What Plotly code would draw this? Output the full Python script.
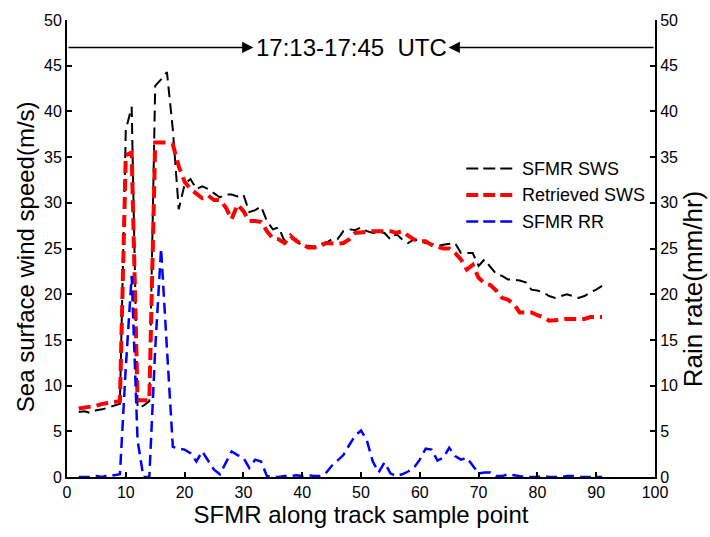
import plotly.graph_objects as go

sample = list(range(2, 92))

sfmr_sws = [7.1, 7.2, 7.0, 7.3, 7.4, 7.6, 7.8, 8.0, 38.0, 40.5,
            7.6, 7.8, 8.3, 42.8, 43.5, 44.3, 38.0, 29.3, 32.0, 32.6,
            31.5, 31.8, 31.5, 31.0, 30.6, 30.9, 30.9, 30.7, 30.9, 29.0,
            29.2, 29.6, 28.0, 27.1, 27.3, 25.8, 26.0, 26.0, 25.2, 25.3,
            25.2, 25.5, 25.6, 26.0, 26.0, 26.9, 27.1, 27.0, 27.3, 26.9,
            26.7, 26.8, 26.7, 26.0, 26.6, 26.0, 25.6, 26.0, 25.8, 25.6,
            25.5, 25.3, 25.4, 25.5, 25.6, 24.5, 24.5, 24.5, 23.1, 23.8,
            23.0, 22.2, 22.0, 21.6, 21.6, 21.5, 21.3, 20.5, 20.4, 20.2,
            19.8, 19.6, 19.8, 20.0, 19.8, 19.6, 19.8, 20.2, 20.5, 20.9]

retrieved_sws = [7.5, 7.6, 7.6, 7.8, 8.0, 8.1, 8.2, 8.3, 35.2, 35.5,
                 8.4, 8.4, 8.4, 36.6, 36.6, 36.6, 36.4, 34.0, 32.3, 31.5,
                 31.0, 30.5, 30.8, 30.3, 30.3, 29.5, 28.2, 29.8, 29.1, 28.0,
                 28.0, 27.9, 26.9, 26.1, 26.0, 25.6, 26.4, 25.8, 25.5, 25.1,
                 25.1, 25.2, 25.6, 25.5, 25.5, 25.6, 26.0, 26.7, 26.8, 26.9,
                 26.9, 26.9, 26.9, 26.9, 26.7, 26.9, 26.4, 26.0, 25.8, 25.8,
                 25.4, 25.2, 25.0, 25.0, 24.5, 23.8, 22.7, 23.2, 21.8, 21.2,
                 21.0, 20.4, 19.6, 19.4, 18.9, 18.0, 18.0, 18.0, 17.7, 17.5,
                 17.1, 17.1, 17.2, 17.3, 17.3, 17.3, 17.3, 17.5, 17.5, 17.5]

sfmr_rr = [0.0, 0.0, 0.0, 0.1, 0.0, 0.2, 0.2, 0.3, 12.0, 22.0,
           4.0, 0.0, 0.0, 14.0, 25.0, 14.0, 3.3, 3.1, 3.0, 2.6,
           1.7, 2.8, 1.8, 0.8, 0.3, 1.5, 2.8, 2.4, 2.1, 1.0,
           1.9, 1.7, 0.1, 0.0, 0.0, 0.1, 0.1, 0.2, 0.1, 0.2,
           0.1, 0.1, 0.4, 1.2, 1.8, 2.4, 3.5, 4.5, 5.1, 4.0,
           1.7, 0.5, 1.6, 0.4, 0.1, 0.3, 0.6, 1.0, 1.9, 3.1,
           3.0, 1.8, 2.1, 3.2, 2.3, 1.9, 2.1, 1.2, 0.4, 0.5,
           0.5, 0.1, 0.1, 0.3, 0.2, 0.1, 0.0, 0.0, 0.0, 0.1,
           0.0, 0.0, 0.0, 0.1, 0.1, 0.0, 0.0, 0.0, 0.0, 0.0]

series_names = ["SFMR SWS", "Retrieved SWS", "SFMR RR"]
x_ticks = list(range(0, 101, 10))
y_ticks = list(range(0, 51, 5))
time_label = "17:13-17:45  UTC"
x_title = "SFMR along track sample point"
y_title = "Sea surface wind speed(m/s)"
y2_title = "Rain rate(mm/hr)"

FONT = "Liberation Sans, Arial, sans-serif"
colors = ["black", "#ff0000", "#0000ff"]
widths = [2, 4, 2.5]
dashes = ["11px,6px", "12px,6px", "11px,6px"]

fig = go.Figure()
fig.add_trace(go.Scatter(x=sample, y=sfmr_sws, name=series_names[0], mode="lines",
                         line=dict(color=colors[0], width=widths[0], dash=dashes[0])))
fig.add_trace(go.Scatter(x=sample, y=retrieved_sws, name=series_names[1], mode="lines",
                         line=dict(color=colors[1], width=widths[1], dash=dashes[1])))
fig.add_trace(go.Scatter(x=sample, y=sfmr_rr, name=series_names[2], mode="lines", yaxis="y2",
                         line=dict(color=colors[2], width=widths[2], dash=dashes[2])))

axis_common = dict(showgrid=False, zeroline=False, ticks="inside", ticklen=5,
                   tickwidth=2, tickcolor="black", linecolor="black", linewidth=2,
                   showline=True, tickfont=dict(family=FONT, size=16, color="black"))

fig.update_layout(
    width=710, height=537,
    margin=dict(l=67, r=55, t=17, b=60),
    plot_bgcolor="white", paper_bgcolor="white",
    font=dict(family=FONT, color="black"),
    showlegend=False,
    xaxis=dict(range=[0, 100], tickvals=x_ticks, **axis_common,
               title=dict(text=x_title, font=dict(family=FONT, size=24), standoff=2)),
    yaxis=dict(range=[0, 50], tickvals=y_ticks, **axis_common),
    yaxis2=dict(range=[0, 50], tickvals=y_ticks, overlaying="y", side="right",
                **axis_common),
)

# side axis titles placed as rotated text
fig.add_annotation(xref="paper", yref="paper", x=-0.0715, y=0.483, text=y_title,
                   textangle=-90, showarrow=False, xanchor="center", yanchor="middle",
                   font=dict(family=FONT, size=24, color="black"))
fig.add_annotation(xref="paper", yref="paper", x=1.064, y=0.41, text=y2_title,
                   textangle=-90, showarrow=False, xanchor="center", yanchor="middle",
                   font=dict(family=FONT, size=26, color="black"))

# manual legend (line samples + labels)
leg_x0, leg_x1, leg_tx = 0.679, 0.763, 0.771
leg_rows = [0.675, 0.617, 0.559]
for name, c, w, row in zip(series_names, colors, widths, leg_rows):
    fig.add_shape(type="line", xref="paper", yref="paper", x0=leg_x0, x1=leg_x1,
                  y0=row, y1=row, line=dict(color=c, width=w, dash="12px,5px"))
    fig.add_annotation(xref="paper", yref="paper", x=leg_tx, y=row, text=name,
                       showarrow=False, xanchor="left", yanchor="middle",
                       font=dict(family=FONT, size=18, color="black"))

# time annotation with arrows
y_arrow = 47.0
fig.add_annotation(x=31.7, y=y_arrow, ax=0, ay=y_arrow, xref="x", yref="y",
                   axref="x", ayref="y", text="", showarrow=True,
                   arrowhead=2, arrowsize=1.5, arrowwidth=1.5, arrowcolor="black")
fig.add_annotation(x=64.9, y=y_arrow, ax=100, ay=y_arrow, xref="x", yref="y",
                   axref="x", ayref="y", text="", showarrow=True,
                   arrowhead=2, arrowsize=1.5, arrowwidth=1.5, arrowcolor="black")
fig.add_annotation(x=48.3, y=y_arrow, xref="x", yref="y", text=time_label,
                   showarrow=False, font=dict(family=FONT, size=24, color="black"))

fig.write_html("out.html")
